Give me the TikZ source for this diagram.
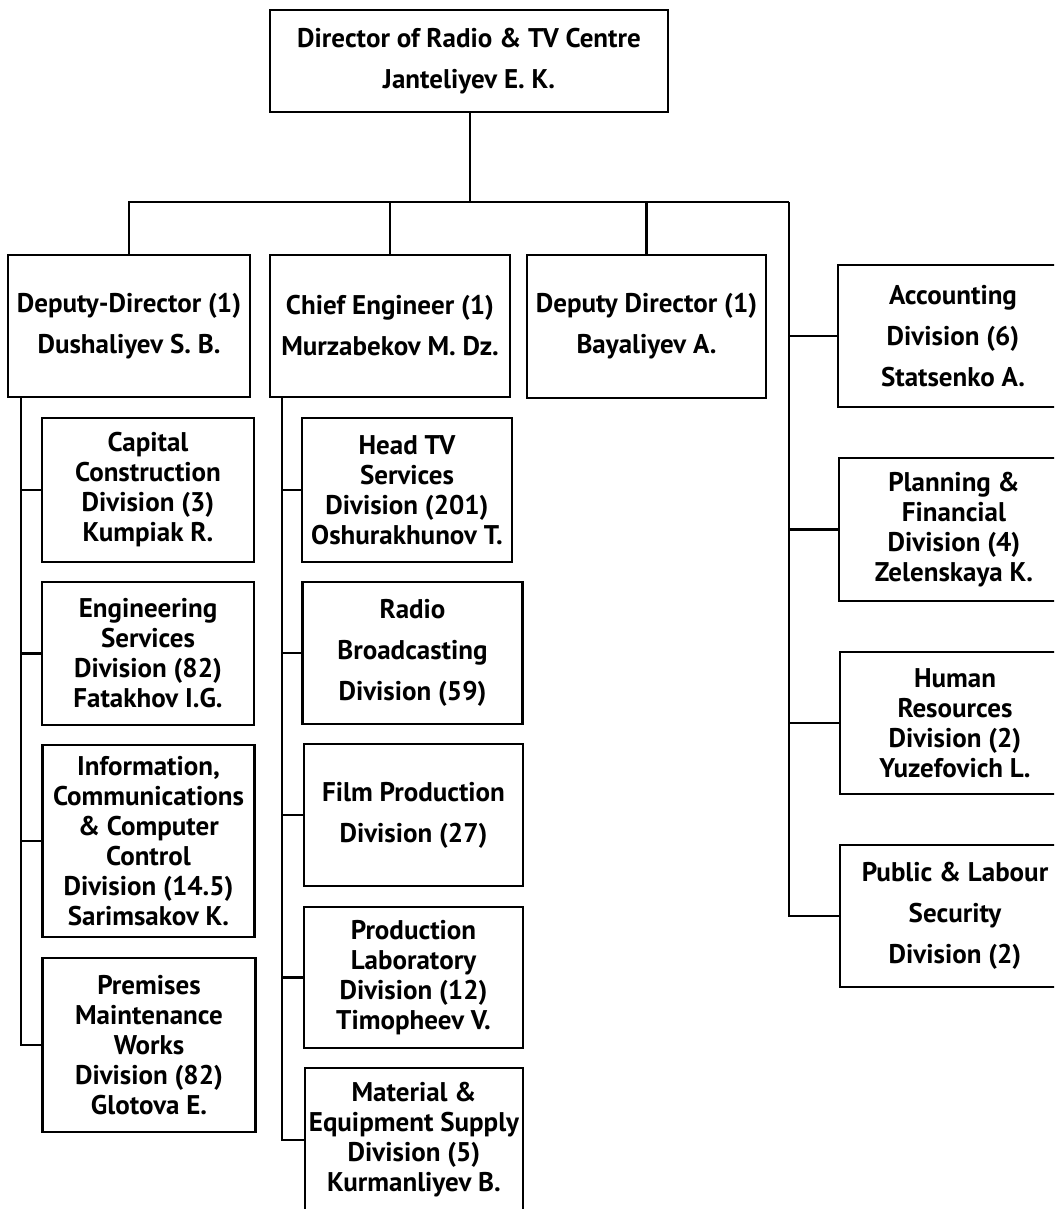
\documentclass[tikz,border=0pt]{standalone}
\usepackage{fontspec}
\setmainfont{PT Sans}
\begin{document}
\begin{tikzpicture}[x=1pt,y=-1pt,
  every node/.style={font=\bfseries\fontsize{27}{30}\selectfont},
  unit/.style={draw, line width=2.8pt, rectangle, inner sep=0pt, align=center},
  loose/.style={font=\bfseries\fontsize{27}{41}\selectfont},
  link/.style={line width=2.8pt, line join=miter}]
\useasboundingbox (0,0) rectangle (1054,1209);
\clip (0,0) rectangle (1054,1209);
\fill[white] (0,0) rectangle (1054,1209);

% director
\node[unit, loose, minimum width=398pt, minimum height=102pt] (top) at (469,61)
  {Director of Radio \& TV Centre\\Janteliyev E. K.};

% second level
\node[unit, loose, minimum width=242pt, minimum height=142pt] (dep1) at (129,326)
  {Deputy-Director (1)\\Dushaliyev S. B.};
\node[unit, loose, minimum width=240pt, minimum height=142pt] (chief) at (390,326)
  {Chief Engineer (1)\\Murzabekov M. Dz.};
\node[unit, loose, minimum width=239pt, minimum height=143pt] (dep2) at (646.5,326.5)
  {Deputy Director (1)\\Bayaliyev A.};

% divisions under the deputy-director
\node[unit, minimum width=212pt, minimum height=144pt] (cap) at (148,490)
  {Capital\\Construction\\Division (3)\\Kumpiak R.};
\node[unit, minimum width=212pt, minimum height=143pt] (eng) at (148,653.5)
  {Engineering\\Services\\Division (82)\\Fatakhov I.G.};
\node[unit, minimum width=212pt, minimum height=192pt] (info) at (148.5,841)
  {Information,\\Communications\\\& Computer\\Control\\Division (14.5)\\Sarimsakov K.};
\node[unit, minimum width=213pt, minimum height=174pt] (prem) at (149,1045)
  {Premises\\Maintenance\\Works\\Division (82)\\Glotova E.};

% divisions under the chief engineer
\node[unit, minimum width=210pt, minimum height=144pt] (headtv) at (407,490)
  {Head TV\\Services\\Division (201)\\Oshurakhunov T.};
\node[unit, loose, minimum width=220pt, minimum height=142pt] (radio) at (412.5,653)
  {Radio\\Broadcasting\\Division (59)};
\node[unit, loose, minimum width=219pt, minimum height=142pt] (film) at (413.5,815)
  {Film Production\\Division (27)};
\node[unit, minimum width=219pt, minimum height=141pt] (lab) at (413.5,977.5)
  {Production\\Laboratory\\Division (12)\\Timopheev V.};
\node[unit, minimum width=218pt, minimum height=144pt] (supply) at (414,1140)
  {Material \&\\Equipment Supply\\Division (5)\\Kurmanliyev B.};

% divisions reporting to the director
\node[unit, loose, minimum width=230pt, minimum height=142pt] (acc) at (953,336)
  {Accounting\\Division (6)\\Statsenko A.};
\node[unit, minimum width=230pt, minimum height=143pt] (plan) at (954,529.5)
  {Planning \&\\Financial\\Division (4)\\Zelenskaya K.};
\node[unit, minimum width=230pt, minimum height=142pt] (hr) at (955,723)
  {Human\\Resources\\Division (2)\\Yuzefovich L.};
\node[unit, loose, minimum width=230pt, minimum height=142pt] (pub) at (955,916)
  {Public \& Labour\\Security\\Division (2)};

% main bar
\coordinate (bar) at (470,202);
\coordinate (rs) at (789,202);
\draw[link] (top.south -| bar) -- (bar);
\draw[link] (dep1.north) |- (bar);
\draw[link] (chief.north) |- (bar);
\draw[link] (dep2.north) |- (bar);
\draw[link] (bar) -- (rs);
\draw[link] (rs) |- (acc.west);
\draw[link] (rs) |- (plan.west);
\draw[link] (rs) |- (hr.west);
\draw[link] (rs) |- (pub.west);

% left spine
\coordinate (ls) at (21,397);
\draw[link] (ls) |- (cap.west);
\draw[link] (ls) |- (eng.west);
\draw[link] (ls) |- (info.west);
\draw[link] (ls) |- (prem.west);

% chief engineer spine
\coordinate (cs) at (282,397);
\draw[link] (cs) |- (headtv.west);
\draw[link] (cs) |- (radio.west);
\draw[link] (cs) |- (film.west);
\draw[link] (cs) |- (lab.west);
\draw[link] (cs) |- (supply.west);
\end{tikzpicture}
\end{document}
